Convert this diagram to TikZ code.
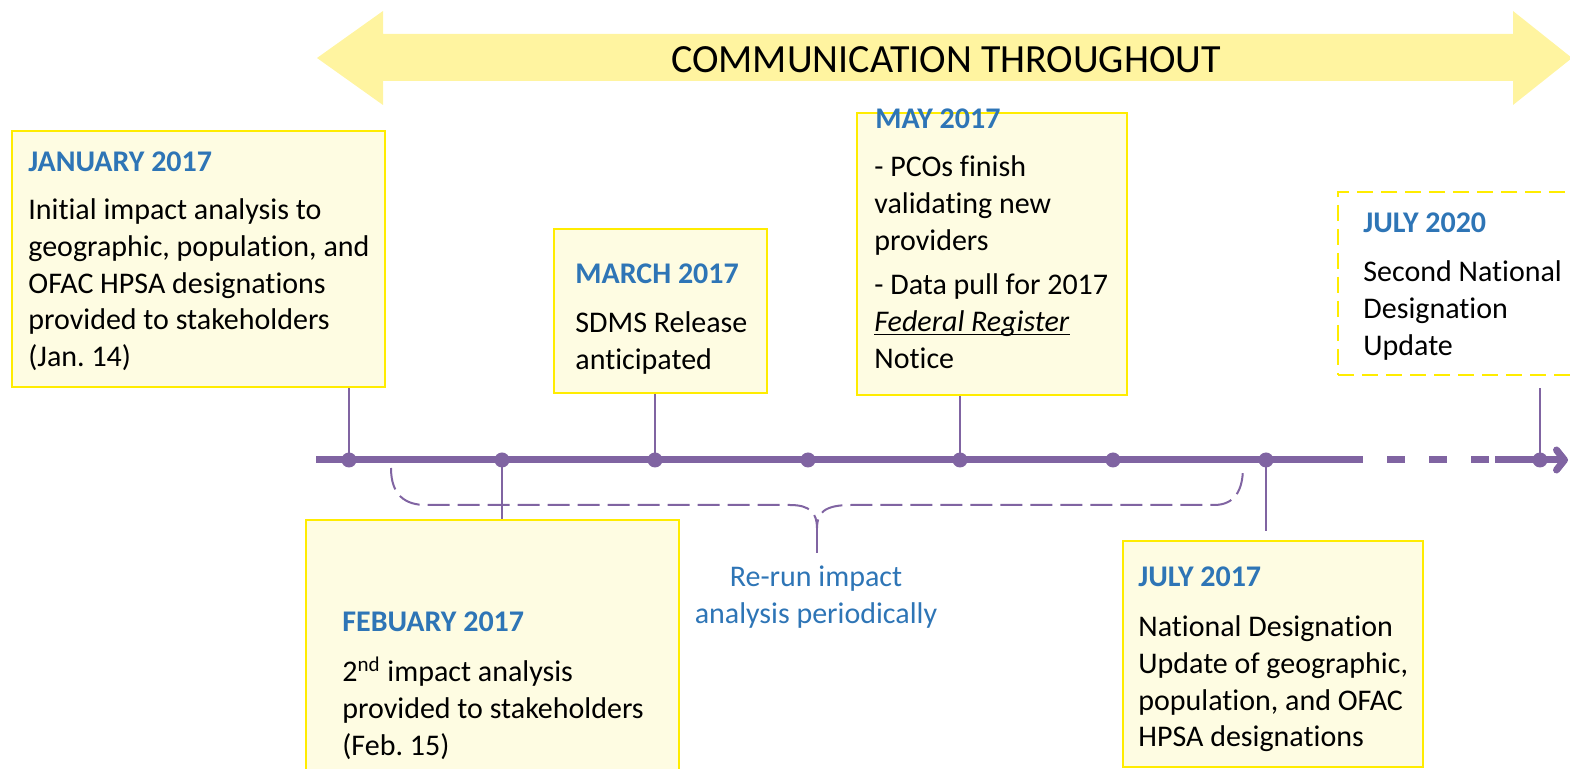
\documentclass[tikz,border=0pt]{standalone}
\usepackage{fontspec}
\setmainfont[Ligatures=NoCommon]{Carlito}
\usetikzlibrary{arrows.meta,fit}
\definecolor{tlpurple}{HTML}{8064A2}
\definecolor{tlblue}{HTML}{2E75B6}
\definecolor{banner}{HTML}{FFF4A0}
\definecolor{boxline}{HTML}{FFEC00}
\definecolor{boxfill}{HTML}{FEFCE2}
\tikzstyle{axis}=[tlpurple,line width=3.5pt]
\tikzstyle{tick}=[tlpurple,line width=1.3pt]
\tikzstyle{event}=[draw=boxline,fill=boxfill,line width=1.25pt,inner sep=0]
\tikzstyle{date}=[anchor=base west,inner sep=0,text=tlblue,font=\fontsize{15}{18.3}\selectfont\bfseries]
\tikzstyle{desc}=[anchor=base west,inner sep=0,font=\fontsize{15}{18.3}\selectfont]
\newcommand{\evtext}[1]{\parbox[t]{8cm}{#1}}
\newcommand{\ulit}[1]{\setbox0\hbox{\textit{#1}}\rlap{\rule[-1.6pt]{\wd0}{0.6pt}}\box0}
\frenchspacing

\begin{document}
\begin{tikzpicture}[x=0.5pt,y=-0.5pt,
    brace/.style={tlpurple,line width=1pt,dash pattern=on 11pt off 4pt},
    later/.style={event,fill=white,dash pattern=on 8pt off 4pt}
    ]
    \useasboundingbox (0,0) rectangle (1570,769);
    \clip (0,0) rectangle (1570,769);

    % banner
    \fill[banner] (317,58) -- (383,11) -- (383,34) -- (1513,34) -- (1513,11)
      -- (1572,58) -- (1513,105) -- (1513,81) -- (383,81) -- (383,105) -- cycle;
    \node[font=\fontsize{20}{24}\selectfont] (comm) at (946,60) {COMMUNICATION THROUGHOUT};

    % boxes
    \node[event,fit={(12,131) (385,387)}] (jan) {};
    \node[event,fit={(306,520) (679,800)}] (feb) {};
    \node[event,fit={(554,229) (767,393)}] (mar) {};
    \node[event,fit={(857,113) (1127,395)}] (may) {};
    \node[event,fit={(1123,541) (1423,767)}] (jul) {};
    \node[later,fit={(1338,192) (1600,375)}] (next) {};

    % timeline
    \foreach \n/\x in {1/349,2/502,3/655,4/808,5/960,6/1113,7/1266,8/1540}
      \coordinate (t\n) at (\x,460);
    \draw[axis] (316,460) -- (1363,460);
    \draw[axis,dash pattern=on 9pt off 12pt] (1387,460) -- (1489,460);
    \draw[axis,-{Straight Barb[length=4pt,width=10pt,round]}] (1495,460) -- (1568,460);

    % links
    \draw[tick] (jan.south -| t1) -- (t1);
    \draw[tick] (t2) -- (feb.north -| t2);
    \draw[tick] (mar.south -| t3) -- (t3);
    \draw[tick] (may.south -| t5) -- (t5);
    \draw[tick,shorten >=4.5pt] (t7) -- (jul.north -| t7);
    \draw[tick,shorten <=6pt] (next.south -| t8) -- (t8);
    \foreach \n in {1,...,8}
      \fill[tlpurple] (t\n) circle (7.5);

    % re-run brace
    \coordinate (tip) at (817,528);
    \coordinate (stem) at (817,553);
    \draw[brace] (391,468) .. controls (391,495) and (405,505) .. (426,505)
      -- (790,505) .. controls (810,505) and (817,513) .. (tip)
      .. controls (817,513) and (824,505) .. (851,505)
      -- (1214,505) .. controls (1235,505) and (1243,490) .. (1243,467);
    \draw[tlpurple,line width=1pt] (tip) -- (stem);
    \node[desc,anchor=base,text=tlblue] (rerun) at (816,587)
      {\parbox[t]{6cm}{\centering Re-run impact\\analysis periodically}};

    % texts
    \node[date] (jant) at (28,172) {JANUARY 2017};
    \node[desc] (janb) at (28,220) {\evtext{Initial impact analysis to\\
      geographic, population, and\\OFAC HPSA designations\\
      provided to stakeholders\\(Jan. 14)}};

    \node[date] (febt) at (342,632) {FEBUARY 2017};
    \node[desc] (febb) at (342,682) {\evtext{2\textsuperscript{nd} impact analysis\\
      provided to stakeholders\\(Feb. 15)}};

    \node[date] (mart) at (575,284) {MARCH 2017};
    \node[desc] (marb) at (575,333) {\evtext{SDMS Release\\anticipated}};

    \node[date] (mayt) at (875,129) {MAY 2017};
    \node[desc] (mayb) at (874,177) {\evtext{- PCOs finish\\validating new\\providers}};
    \node[desc] (mayc) at (874,295) {\evtext{- Data pull for 2017\\
      \ulit{Federal Register}\\Notice}};

    \node[date] (jult) at (1138,587) {JULY 2017};
    \node[desc] (julb) at (1138,637) {\evtext{National Designation\\
      Update of geographic,\\population, and OFAC\\HPSA designations}};

    \node[date] (nextt) at (1363,233) {JULY 2020};
    \node[desc] (nextb) at (1363,282) {\evtext{Second National\\Designation\\Update}};
\end{tikzpicture}
\end{document}
